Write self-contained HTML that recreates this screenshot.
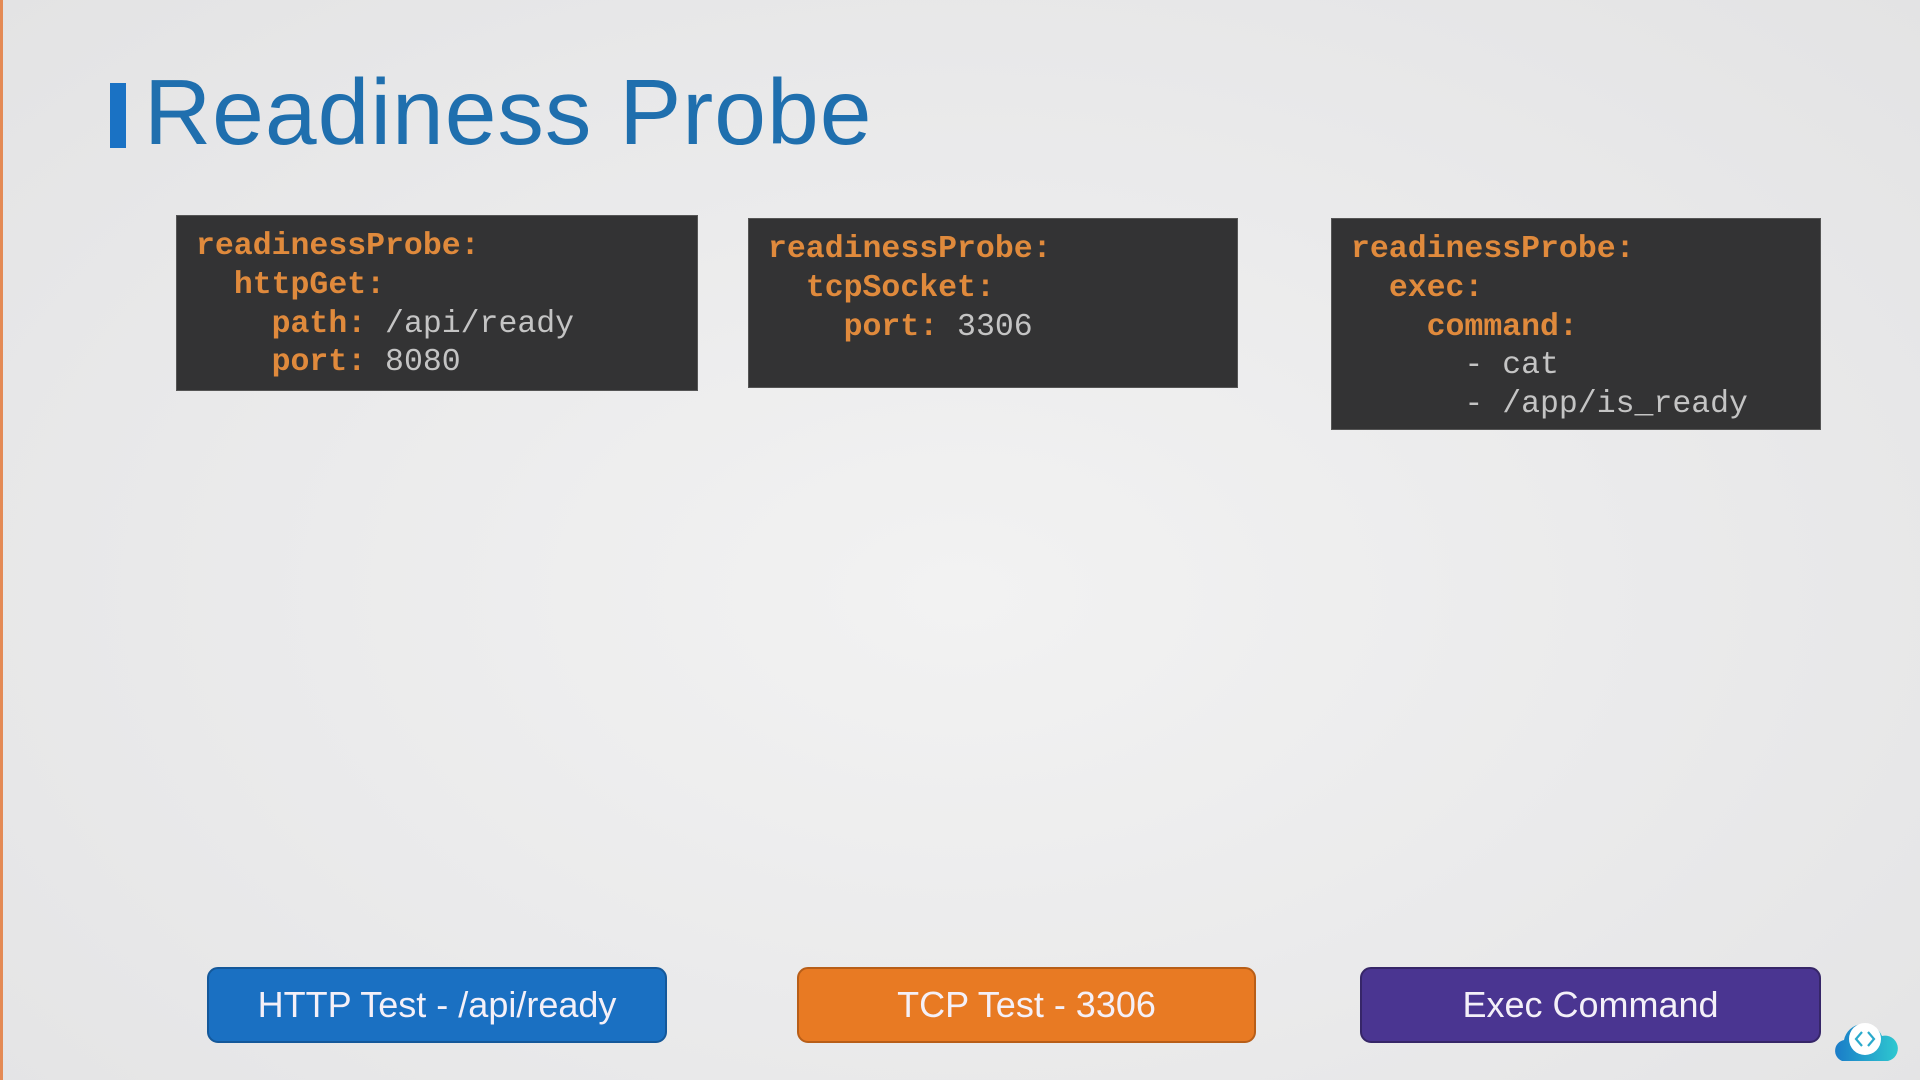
<!DOCTYPE html>
<html><head><meta charset="utf-8"><style>
html,body{margin:0;padding:0}
body{width:1920px;height:1080px;position:relative;overflow:hidden;
background:radial-gradient(ellipse at 50% 55%,#f2f2f2 0%,#e9e9ea 60%,#e3e3e4 100%);
font-family:"Liberation Sans",sans-serif}
.edge{position:absolute;left:0;top:0;width:3px;height:1080px;background:#e48a55}
.bar{position:absolute;left:110px;top:83px;width:16px;height:65px;background:#1a72c4}
.title{position:absolute;left:144px;top:57px;font-size:93px;color:#1f6fae;line-height:1.2;letter-spacing:1px}
.box{position:absolute;background:#333334;border:1px solid #555;box-sizing:border-box;
font-family:"Liberation Mono",monospace;font-size:31.5px;line-height:38.8px;padding:12px 0 0 19px;white-space:pre;color:#c4c4c4}
.k{color:#e08a3c;font-weight:bold}
.btn{position:absolute;top:967px;height:76px;border-radius:11px;box-sizing:border-box;color:#f4f0f8;
font-size:36px;display:flex;align-items:center;justify-content:center}
</style></head><body>
<div class="edge"></div>
<div class="bar"></div>
<div class="title">Readiness Probe</div>
<div class="box" style="left:176px;top:215px;width:522px;height:176px"><span class="k">readinessProbe:</span>
  <span class="k">httpGet:</span>
    <span class="k">path:</span> /api/ready
    <span class="k">port:</span> 8080</div>
<div class="box" style="left:748px;top:218px;width:490px;height:170px"><span class="k">readinessProbe:</span>
  <span class="k">tcpSocket:</span>
    <span class="k">port:</span> 3306</div>
<div class="box" style="left:1331px;top:218px;width:490px;height:212px"><span class="k">readinessProbe:</span>
  <span class="k">exec:</span>
    <span class="k">command:</span>
      - cat
      - /app/is_ready</div>
<div class="btn" style="left:207px;width:460px;background:#1a70c2;border:2px solid #14589a">HTTP Test - /api/ready</div>
<div class="btn" style="left:797px;width:459px;background:#e87a23;border:2px solid #b85e18">TCP Test - 3306</div>
<div class="btn" style="left:1360px;width:461px;background:#4a3591;border:2px solid #362668">Exec Command</div>
<svg style="position:absolute;left:1830px;top:1015px" width="72" height="48" viewBox="0 0 72 48">
<defs><linearGradient id="g" x1="0" x2="1"><stop offset="0" stop-color="#1a7cc8"/><stop offset="1" stop-color="#2ec8d0"/></linearGradient></defs>
<path d="M12 46 a11 11 0 0 1 2-21 a20 20 0 0 1 38-4 a12 12 0 0 1 6 25 z" fill="url(#g)"/>
<circle cx="35" cy="24" r="16" fill="#fff"/>
<path d="M32 17 l-6 7 6 7 M38 17 l6 7 -6 7" stroke="#2aaacc" stroke-width="2.2" fill="none"/>
</svg>
</body></html>
